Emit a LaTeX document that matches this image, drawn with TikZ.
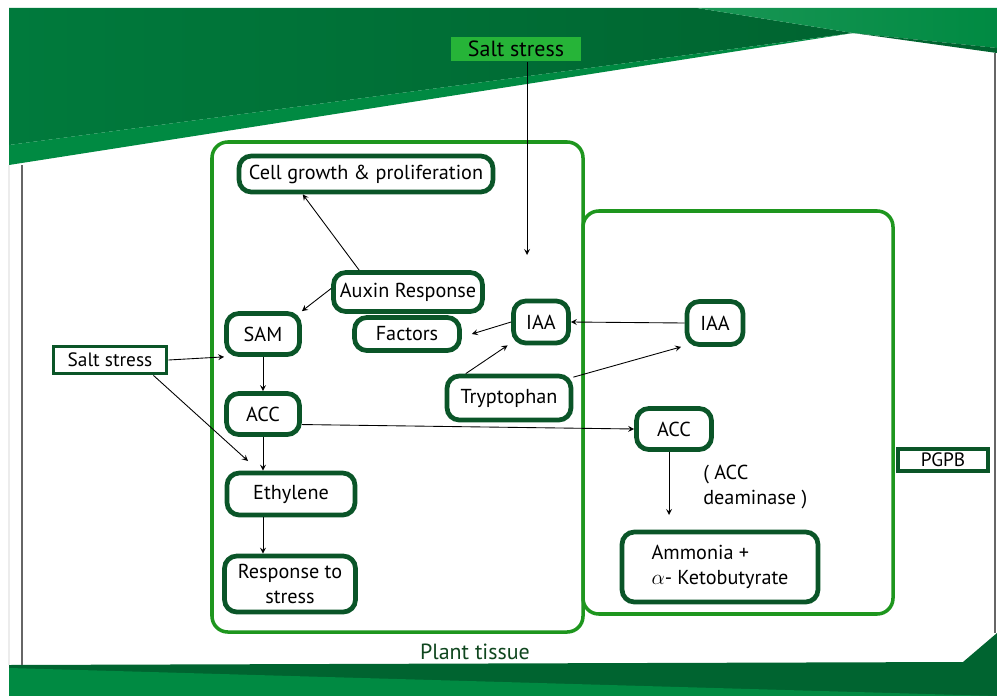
\documentclass[tikz,border=0pt]{standalone}
\usepackage{fontspec}
\setmainfont{PT Sans}
\usetikzlibrary{positioning}

\definecolor{bandDark}{RGB}{0,100,48}
\definecolor{bandMid}{RGB}{0,122,60}
\definecolor{bandLight}{RGB}{0,138,66}
\definecolor{tissueGreen}{RGB}{30,150,30}
\definecolor{boxGreen}{RGB}{10,85,40}
\definecolor{tagGreen}{RGB}{38,180,56}
\definecolor{labelGreen}{RGB}{15,70,30}

\tikzset{
  cell/.style={draw=boxGreen, line width=2.7pt, rounded corners=7pt, fill=white,
    align=center, inner sep=1pt, font=\fontsize{11.5}{14}\selectfont},
  tag/.style={draw=boxGreen, line width=2.2pt, fill=white, inner sep=1pt,
    font=\fontsize{11}{13}\selectfont},
  area/.style={draw=tissueGreen, line width=2pt, rounded corners=9pt},
  link/.style={->, line width=0.5pt},
}

\begin{document}
\begin{tikzpicture}[x=0.02cm,y=-0.02cm,>=stealth]
    \useasboundingbox (0,0) rectangle (997,696);
    \fill[white] (0,0) rectangle (997,696);
    % top band
    \shade[left color=bandMid, right color=bandDark] (9,8) -- (697,8) -- (853,33) -- (9,145) -- cycle;
    \fill[bandLight] (9,145) -- (853,33) -- (9,165) -- cycle;
    \shade[left color=bandLight!90!white, right color=bandLight] (697,8) -- (997,8) -- (997,48) -- (853,33) -- cycle;
    \fill[bandDark] (853,33) -- (997,48) -- (997,53) -- cycle;
    % bottom band
    \fill[bandDark] (9,665) -- (963,662) -- (997,633) -- (997,696) -- (9,696) -- cycle;
    \fill[bandLight] (9,668) -- (997,696) -- (9,696) -- cycle;
    % frame lines
    \draw[gray!80!black, line width=0.8pt] (22,165) -- (22,665);
    \draw[gray!80!black, line width=0.8pt] (995,53) -- (995,633);
    \draw[gray!15, line width=0.6pt] (9,165) -- (9,665);
    % tissue and bacteria
    \draw[area] (212,142) rectangle (583,632);
    \draw[area] (583,211) rectangle (893,614);
    \node[text=labelGreen, font=\fontsize{12.5}{15}\selectfont] (plant) at (475,652) {Plant tissue};

    % plant side
    \node[cell, minimum width=5.08cm, minimum height=0.72cm] (growth) at (366,174) {Cell growth \& proliferation};
    \node[cell, minimum width=2.98cm, minimum height=0.78cm] (auxin) at (408,292) {Auxin Response};
    \node[cell, minimum width=2.1cm, minimum height=0.66cm] (factors) at (407,334) {Factors};
    \node[cell, minimum width=1.46cm, minimum height=0.82cm] (sam) at (263,334) {SAM};
    \node[cell, minimum width=1.1cm, minimum height=0.84cm] (iaaL) at (541,322) {IAA};
    \node[cell, minimum width=2.48cm, minimum height=0.88cm] (trp) at (509,398) {Tryptophan};
    \node[cell, minimum width=1.46cm, minimum height=0.82cm] (accL) at (263,414) {ACC};
    \node[cell, minimum width=2.56cm, minimum height=0.84cm] (eth) at (291,494) {Ethylene};
    \node[cell, minimum width=2.62cm, minimum height=1.12cm] (resp) at (290,584) {Response to\\stress};

    % bacteria side
    \node[cell, minimum width=1.12cm, minimum height=0.86cm] (iaaR) at (715,323) {IAA};
    \node[cell, minimum width=1.5cm, minimum height=0.82cm] (accR) at (674,429) {ACC};
    \node[anchor=west, align=left, inner sep=0pt, font=\fontsize{11.5}{14}\selectfont] (deam) at (703,487) {( ACC\\deaminase )};
    \node[cell, align=left, minimum width=3.92cm, minimum height=1.4cm] (ammo) at (720,567) {Ammonia +\\$\alpha$- Ketobutyrate};
    \node[tag, minimum width=1.8cm, minimum height=0.44cm] (pgpb) at (943,460) {PGPB};

    % stress inputs
    \node[tag, minimum width=2.26cm, minimum height=0.54cm] (saltL) at (110,360) {Salt stress};
    \node[fill=tagGreen, inner sep=1pt, minimum width=2.62cm, minimum height=0.5cm,
      font=\fontsize{12.5}{15}\selectfont] (saltT) at (516,49) {Salt stress};
    \coordinate (saltEnd) at (527,255);
    \coordinate (ethIn) at (248,461);

    \draw[link] (saltT.south -| saltEnd) -- (saltEnd);
    \draw[link] (saltL.east) -- (sam.south west);
    \draw[link] ([xshift=-8.5pt]saltL.south east) -- (ethIn);
    \draw[link] (sam.south) -- (sam.south |- accL.north);
    \draw[link] (accL.south) -- (accL.south |- eth.north);
    \draw[link] (accL.south |- eth.south) -- (accL.south |- resp.north);
    \draw[link] ([yshift=-6pt]accL.east) -- (accR.west);
    \draw[link] (accR.south -| 669,0) -- (669,515);
    \draw[link] (auxin.north west) ++(28,0) -- ([xshift=-36pt]growth.south);
    \draw[link] ([yshift=2pt]auxin.west) -- (sam.north east);
    \draw[link] (iaaL.west) -- ([xshift=5.7pt]factors.east);
    \draw[link] (iaaR.west) -- (iaaL.east);
    \draw[link] ([xshift=12pt]trp.north west) -- ([xshift=-2pt]iaaL.south west);
    \draw[link] ([yshift=-2pt]trp.north east) -- ([xshift=-2pt]iaaR.south west);
\end{tikzpicture}
\end{document}
